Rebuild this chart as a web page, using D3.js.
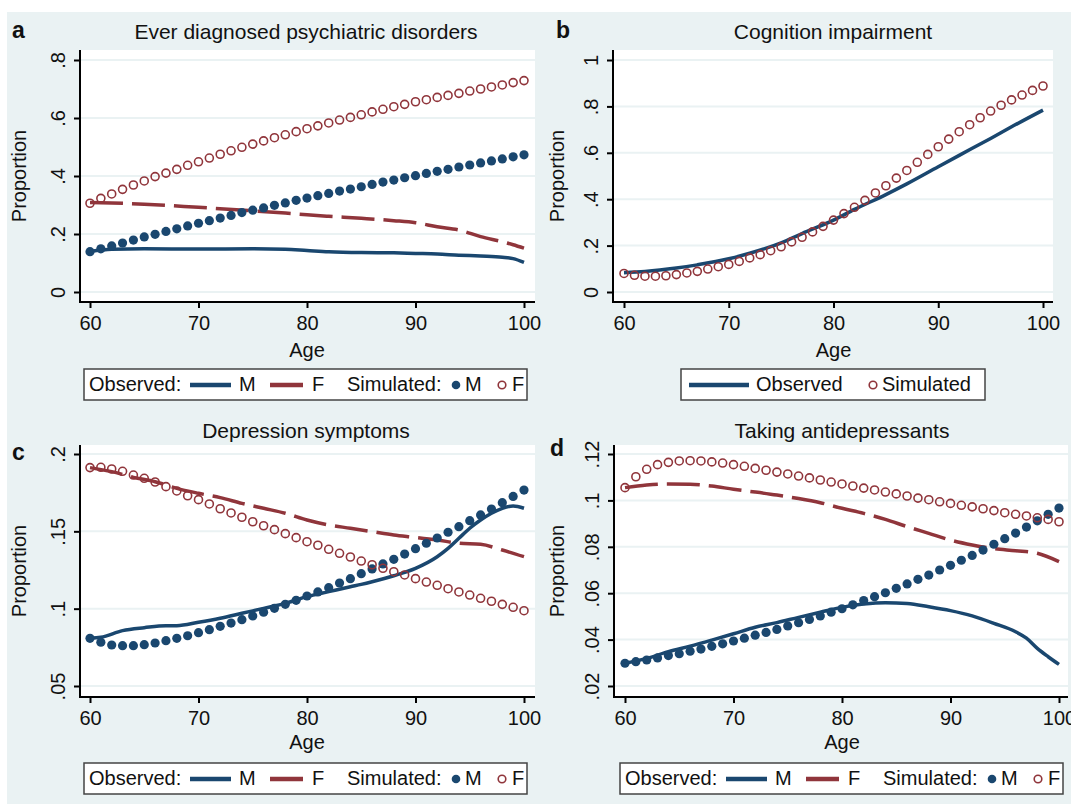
<!DOCTYPE html>
<html>
<head>
<meta charset="utf-8">
<script src="https://cdn.jsdelivr.net/npm/d3@7"></script>
<style>
  body { margin: 0; background: #fff; }
  text { font-family: "Liberation Sans", Arial, sans-serif; fill: #111; }
</style>
</head>
<body>
<script>
// ---- data ----
var ages = [60,61,62,63,64,65,66,67,68,69,70,71,72,73,74,75,76,77,78,79,80,
            81,82,83,84,85,86,87,88,89,90,91,92,93,94,95,96,97,98,99,100];

// a: ever diagnosed psychiatric disorders
var aSimM = [.139,.149,.159,.169,.179,.190,.199,.209,.218,.228,.237,.246,.255,.264,.274,.282,.290,.299,.307,.316,.324,
             .332,.340,.348,.355,.363,.371,.379,.386,.394,.401,.409,.416,.423,.431,.438,.445,.452,.459,.466,.473];
var aSimF = [.306,.323,.338,.354,.369,.383,.398,.410,.423,.437,.449,.462,.475,.487,.499,.510,.521,.532,.542,.553,.563,
             .573,.583,.593,.602,.611,.621,.630,.639,.647,.656,.663,.671,.678,.685,.693,.700,.707,.714,.722,.729];
var aObsAge = [60,62,65,70,75,78,80,82,85,88,90,92,94,96,98,99,100];
var aObsM = [.140,.147,.149,.148,.149,.147,.143,.139,.136,.135,.133,.131,.127,.124,.120,.115,.102];
var aObsF = [.309,.307,.303,.292,.280,.272,.266,.261,.254,.246,.239,.225,.214,.191,.173,.163,.151];

// b: cognition impairment
var bSim = [.080,.072,.068,.068,.070,.075,.082,.089,.099,.109,.119,.132,.147,.161,.178,.195,.216,.236,.259,.283,.310,
            .338,.365,.395,.427,.458,.491,.524,.559,.593,.626,.659,.691,.721,.751,.780,.805,.828,.849,.869,.888];
var bObsAge = [60,62,65,67,70,72,75,77,80,82,85,87,90,92,95,97,100];
var bObs = [.083,.088,.103,.117,.143,.167,.212,.252,.310,.356,.420,.466,.540,.589,.662,.712,.784];

// c: depression symptoms
var cSimM = [.0808,.0783,.0765,.0761,.0761,.0767,.0778,.0793,.0808,.0825,.0845,.0864,.0886,.0907,.0929,.0953,.0977,.1002,.1028,.1054,.1082,
             .1108,.1136,.1166,.1194,.1226,.1257,.1289,.1319,.1353,.1388,.1423,.1457,.1494,.1530,.1569,.1606,.1644,.1685,.1726,.1767];
var cSimF = [.1912,.1914,.1903,.1888,.1864,.1843,.1819,.1789,.1761,.1730,.1705,.1677,.1646,.1619,.1591,.1562,.1536,.1511,.1485,.1459,.1433,
             .1410,.1384,.1358,.1334,.1308,.1284,.1261,.1239,.1218,.1194,.1172,.1151,.1129,.1108,.1088,.1067,.1048,.1028,.1009,.0987];
var cObsAgeM = [60,61,63,65,67,68,70,72,74,76,78,80,82,84,85,86,88,90,92,93,94,95,96,97,98,99,100];
var cObsM = [.0808,.0815,.0858,.0877,.0890,.0890,.0912,.0938,.0970,.1002,.1034,.1078,.1110,.1142,.1157,.1174,.1213,.1261,.1336,.1390,.1455,.1520,.1573,.1617,.1649,.1664,.1649];
var cObsAgeF = [60,62,64,66,68,70,72,74,76,78,80,82,84,86,88,90,92,94,96,98,100];
var cObsF = [.1912,.1886,.1849,.1821,.1778,.1746,.1718,.1681,.1649,.1617,.1573,.1541,.1520,.1498,.1476,.1461,.1444,.1423,.1416,.1379,.1336];

// d: taking antidepressants
var dSimM = [.0298,.0305,.0312,.0321,.0331,.0339,.0350,.0359,.0371,.0382,.0394,.0406,.0419,.0431,.0444,.0459,.0473,.0487,.0502,.0518,.0533,
             .0550,.0568,.0585,.0602,.0621,.0640,.0660,.0678,.0700,.0720,.0742,.0763,.0786,.0811,.0835,.0859,.0885,.0912,.0940,.0967];
var dSimF = [.1055,.1102,.1134,.1154,.1164,.1170,.1171,.1170,.1166,.1161,.1154,.1147,.1138,.1130,.1122,.1114,.1105,.1097,.1088,.1079,.1071,
             .1062,.1053,.1045,.1036,.1028,.1019,.1010,.1003,.0994,.0987,.0979,.0972,.0964,.0956,.0947,.0940,.0933,.0925,.0918,.0908];
var dObsAgeM = [60,62,64,66,68,70,72,74,76,78,80,82,84,86,88,90,92,94,96,97,98,99,100];
var dObsM = [.0298,.0319,.0348,.0372,.0398,.0425,.0453,.0473,.0496,.0518,.0539,.0553,.0559,.0556,.0542,.0525,.0502,.0470,.0434,.0406,.0362,.0326,.0293];
var dObsAgeF = [60,62,64,66,68,70,72,74,76,78,80,82,84,86,88,90,92,94,96,98,100];
var dObsF = [.1055,.1066,.1071,.1070,.1062,.1048,.1036,.1023,.1008,.0990,.0966,.0944,.0918,.0887,.0858,.0829,.0808,.0792,.0783,.0772,.0736];

// tick values and their Stata-style labels
var xTicks = [60,70,80,90,100];
var aTicks = [0,.2,.4,.6,.8],          aTickLab = ["0",".2",".4",".6",".8"];
var bTicks = [0,.2,.4,.6,.8,1],        bTickLab = ["0",".2",".4",".6",".8","1"];
var cTicks = [.05,.1,.15,.2],          cTickLab = [".05",".1",".15",".2"];
var dTicks = [.02,.04,.06,.08,.1,.12], dTickLab = [".02",".04",".06",".08",".1",".12"];

var titles = ["Ever diagnosed psychiatric disorders","Cognition impairment","Depression symptoms","Taking antidepressants"];
var letters = ["a","b","c","d"];

var navy = "#1a476f", maroon = "#90353b", bg = "#eaf2f3";

var svg = d3.select("body").append("svg")
  .attr("width", 1071).attr("height", 804);

// graph region background
svg.append("rect").attr("x", 7).attr("y", 12).attr("width", 1064).attr("height", 792).attr("fill", bg);

// panel layout
var panels = [
  {box:[80,535,50,302],   xr:[90,524],   yd:[0,.8],   yr:[292,60],  ticks:aTicks, labs:aTickLab, tx:306, ty:39,  lx:12,  ly:38,  px:26,  ax:330, agey:357,
   lines:[[aObsAge,aObsM,navy,null],[aObsAge,aObsF,maroon,"33,9"]], dots:[[aSimM,"fill"],[aSimF,"hollow"]], leg:{x:84,y:369,full:true}},
  {box:[613,1053,50,302], xr:[624,1043], yd:[0,1],    yr:[292,60],  ticks:bTicks, labs:bTickLab, tx:833, ty:39,  lx:556, ly:38,  px:564, ax:330, agey:357,
   lines:[[bObsAge,bObs,navy,null]], dots:[[bSim,"hollow"]], leg:{x:681,y:369,full:false}},
  {box:[80,535,445,697],  xr:[90,524],   yd:[.05,.2], yr:[686,454], ticks:cTicks, labs:cTickLab, tx:306, ty:438, lx:12,  ly:460, px:26,  ax:725, agey:749,
   lines:[[cObsAgeM,cObsM,navy,null],[cObsAgeF,cObsF,maroon,"33,9"]], dots:[[cSimM,"fill"],[cSimF,"hollow"]], leg:{x:84,y:763,full:true}},
  {box:[614,1068,445,697],xr:[625,1059], yd:[.02,.12],yr:[686,454], ticks:dTicks, labs:dTickLab, tx:842, ty:438, lx:550, ly:456, px:564, ax:725, agey:749,
   lines:[[dObsAgeM,dObsM,navy,null],[dObsAgeF,dObsF,maroon,"33,9"]], dots:[[dSimM,"fill"],[dSimF,"hollow"]], leg:{x:620,y:763,full:true}}
];

panels.forEach(function(p, i) {
  var g = svg.append("g");
  var x = d3.scaleLinear().domain([60,100]).range(p.xr);
  var y = d3.scaleLinear().domain(p.yd).range(p.yr);
  var L = p.box[0], R = p.box[1], T = p.box[2], B = p.box[3];

  // plot region
  g.append("rect").attr("x", L).attr("y", T).attr("width", R-L).attr("height", B-T).attr("fill", "#fff");

  // gridlines
  g.selectAll(".grid").data(p.ticks).enter().append("line")
    .attr("x1", L).attr("x2", R)
    .attr("y1", function(d) { return y(d); }).attr("y2", function(d) { return y(d); })
    .attr("stroke", bg).attr("stroke-width", 2);

  // title and panel letter
  g.append("text").attr("x", p.tx).attr("y", p.ty).attr("text-anchor", "middle")
    .style("font-size", "21px").text(titles[i]);
  g.append("text").attr("x", p.lx).attr("y", p.ly)
    .style("font-size", "23px").style("font-weight", "bold").text(letters[i]);

  // observed lines
  var line = d3.line().curve(d3.curveMonotoneX);
  p.lines.forEach(function(s) {
    var pts = s[0].map(function(a, k) { return [x(a), y(s[1][k])]; });
    g.append("path").attr("d", line(pts)).attr("fill", "none")
      .attr("stroke", s[2]).attr("stroke-width", 3.5)
      .attr("stroke-dasharray", s[3]);
  });

  // simulated markers
  p.dots.forEach(function(s) {
    var sel = g.append("g").selectAll("circle").data(s[0]).enter().append("circle")
      .attr("cx", function(d, k) { return x(ages[k]); })
      .attr("cy", function(d) { return y(d); });
    if (s[1] === "fill") sel.attr("r", 4.6).attr("fill", navy);
    else sel.attr("r", 4).attr("fill", "none").attr("stroke", maroon).attr("stroke-width", 1.6);
  });

  // axes
  var ya = g.append("g").attr("transform", "translate(" + L + ",0)")
    .call(d3.axisLeft(y).tickValues(p.ticks).tickSize(6).tickSizeOuter(0)
      .tickFormat(function(d, k) { return p.labs[k]; }));
  ya.select(".domain").remove();
  ya.selectAll(".tick line").attr("stroke", "#000").attr("stroke-width", 2);
  ya.selectAll(".tick text").attr("x", 0).attr("dy", 0).attr("y", 0)
    .attr("transform", "translate(-15,0) rotate(-90)")
    .attr("text-anchor", "middle").style("font-size", "20px").style("font-family", "Liberation Sans, Arial, sans-serif").attr("fill", "#111");

  var xa = g.append("g").attr("transform", "translate(0," + B + ")")
    .call(d3.axisBottom(x).tickValues(xTicks).tickSize(6).tickSizeOuter(0));
  xa.select(".domain").remove();
  xa.selectAll(".tick line").attr("stroke", "#000").attr("stroke-width", 2);
  xa.selectAll(".tick text").attr("y", p.ax - B).attr("dy", 0)
    .style("font-size", "20px").style("font-family", "Liberation Sans, Arial, sans-serif").attr("fill", "#111");

  g.append("line").attr("x1", L).attr("x2", L).attr("y1", T).attr("y2", B + 1)
    .attr("stroke", "#000").attr("stroke-width", 2);
  g.append("line").attr("x1", L - 1).attr("x2", R).attr("y1", B).attr("y2", B)
    .attr("stroke", "#000").attr("stroke-width", 2);

  // axis titles
  g.append("text").attr("x", (p.xr[0] + p.xr[1]) / 2).attr("y", p.agey).attr("text-anchor", "middle")
    .style("font-size", "20px").text("Age");
  g.append("text").attr("transform", "translate(" + p.px + "," + ((T + B) / 2) + ") rotate(-90)")
    .attr("text-anchor", "middle").style("font-size", "20px").text("Proportion");

  // legend
  var lg = g.append("g").attr("transform", "translate(" + p.leg.x + "," + p.leg.y + ")");
  var lw = p.leg.full ? 443 : 304;
  lg.append("rect").attr("x", 0).attr("y", 0).attr("width", lw).attr("height", 31)
    .attr("fill", "#fff").attr("stroke", "#444").attr("stroke-width", 1.5);
  function txt(xp, s) {
    lg.append("text").attr("x", xp).attr("y", 22).style("font-size", "20px").text(s);
  }
  function key(x1, x2, c) {
    lg.append("line").attr("x1", x1).attr("x2", x2).attr("y1", 16).attr("y2", 16)
      .attr("stroke", c).attr("stroke-width", 4.5);
  }
  if (p.leg.full) {
    txt(5, "Observed:");
    key(106, 147, navy); txt(155, "M");
    key(186, 219, maroon); txt(228, "F");
    txt(263, "Simulated:");
    lg.append("circle").attr("cx", 372).attr("cy", 16).attr("r", 4.3).attr("fill", navy);
    txt(381, "M");
    lg.append("circle").attr("cx", 418).attr("cy", 16).attr("r", 3.8).attr("fill", "none")
      .attr("stroke", maroon).attr("stroke-width", 1.6);
    txt(428, "F");
  } else {
    key(8, 68, navy); txt(75, "Observed");
    lg.append("circle").attr("cx", 192).attr("cy", 16).attr("r", 3.8).attr("fill", "none")
      .attr("stroke", maroon).attr("stroke-width", 1.6);
    txt(201, "Simulated");
  }
});
</script>
</body>
</html>
